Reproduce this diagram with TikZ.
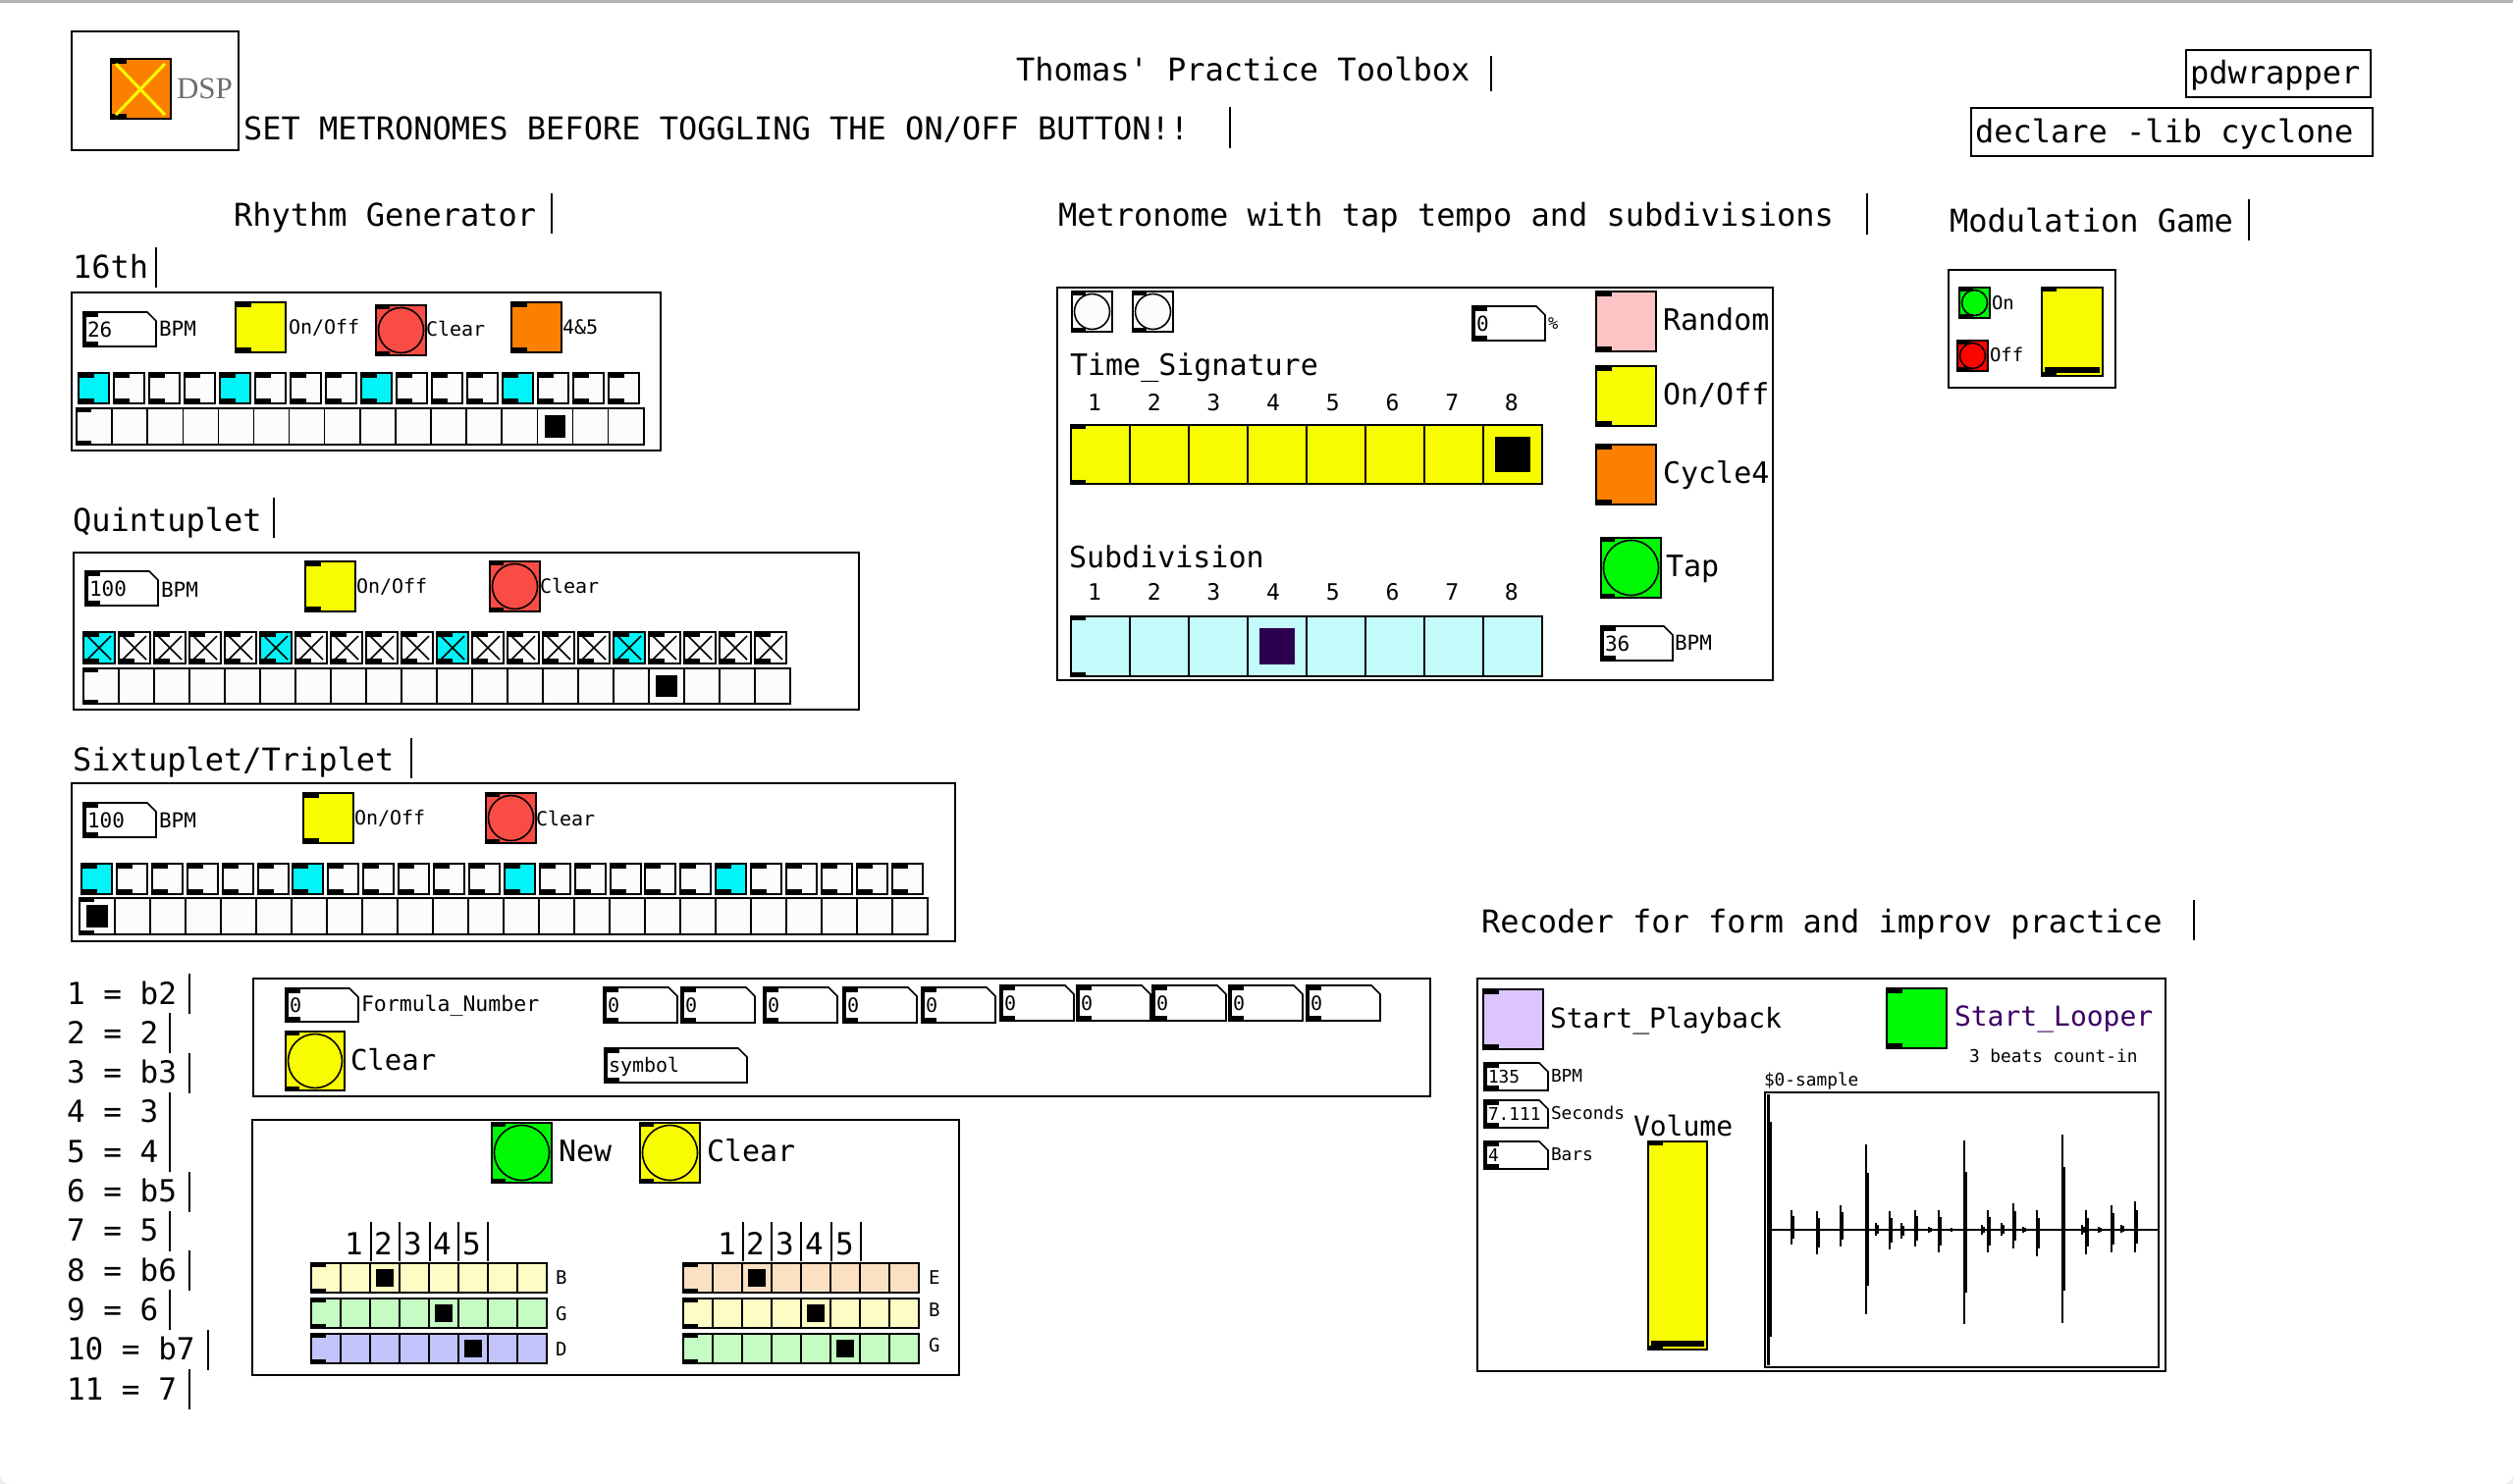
\documentclass[tikz,border=0pt]{standalone}
\usepackage{fontspec}
\setmonofont{DejaVu Sans Mono}
\newfontfamily\dspfont{Liberation Serif}
\newcommand{\fs}[1]{\ttfamily\fontsize{#1pt}{#1pt}\selectfont}
\definecolor{pdyellow}{HTML}{F8FC00}
\definecolor{pdcyan}{HTML}{00F4F8}
\definecolor{pdred}{HTML}{F84C44}
\definecolor{pdorange}{HTML}{FC8000}
\definecolor{pdgreen}{HTML}{00F804}
\definecolor{pdpink}{HTML}{FCC4C4}
\definecolor{pdlcyan}{HTML}{C4FCFC}
\definecolor{pdlav}{HTML}{DCC4FC}
\definecolor{pdlyellow}{HTML}{FCFCC4}
\definecolor{pdlgreen}{HTML}{C4FCC4}
\definecolor{pdlblue}{HTML}{C4C4FC}
\definecolor{pdpeach}{HTML}{FCE0C4}
\definecolor{pdoffred}{HTML}{FC0400}
\definecolor{pddpurple}{HTML}{2C0050}
\definecolor{pdltext}{HTML}{3C0064}
\definecolor{pdwhite}{HTML}{FCFCFC}
\definecolor{dspgray}{HTML}{6E6E6E}
\definecolor{wingray}{HTML}{EBEBEB}
\newcount\nodecnt
\tikzset{lab/.style={anchor=base west, inner sep=0pt, outer sep=0pt},
  frame/.style={draw=black, line width=2pt},
  cbar/.style={line width=1.5pt}}
\newcommand{\ptx}[4]{\global\advance\nodecnt by 1
  \node[lab,font=\fs{#1},name=t\the\nodecnt] at ({#2},{#3}) {#4};}
\newcommand{\ptxc}[5]{\global\advance\nodecnt by 1
  \node[lab,font=\fs{#1},text=#5,name=t\the\nodecnt] at ({#2},{#3}) {#4};}
\newcommand{\pdig}[4]{\global\advance\nodecnt by 1
  \node[anchor=base,inner sep=0pt,font=\fs{#1},name=t\the\nodecnt] at ({#2},{#3}) {#4};}
\newcommand{\ptog}[4]{%
  \filldraw[fill=#4,draw=black,line width=2pt] (#1,#2) rectangle ++(#3,#3);
  \fill[black] (#1,#2) rectangle ++(16,5);
  \fill[black] (#1,{#2+#3}) rectangle ++(16,-5);}
\newcommand{\ptogx}[4]{\ptog{#1}{#2}{#3}{#4}%
  \draw[line width=1.5pt] ({#1+4},{#2+4}) -- ({#1+#3-4},{#2+#3-4}) ({#1+#3-4},{#2+4}) -- ({#1+4},{#2+#3-4});}
\newcommand{\pbang}[4]{%
  \filldraw[fill=#4,draw=black,line width=2pt] (#1,#2) rectangle ++(#3,#3);
  \draw[line width=1.6pt] ({#1+#3/2},{#2+#3/2}) circle[radius={#3*0.5pt-2.5pt}];
  \fill[black] (#1,#2) rectangle ++(14,4);
  \fill[black] (#1,{#2+#3}) rectangle ++(14,-4);}
\newcommand{\pnum}[6]{%
  \filldraw[fill=white,draw=black,line width=1.6pt] (#1,#2) -- ({#1+#3-9},#2) -- ({#1+#3},{#2+9}) -- ({#1+#3},{#2+#4}) -- (#1,{#2+#4}) -- cycle;
  \fill (#1,#2) rectangle ++(15,5);
  \fill (#1,{#2+#4}) rectangle ++(15,-5);
  \fill (#1,#2) rectangle ++(2.5,#4);
  \ptx{#5}{#1+4}{#2+#4/2+0.36*#5}{#6}}
\newcommand{\pradio}[8]{%
  \filldraw[fill=#6,draw=black,line width=2pt] (#1,#2) rectangle ({#1+#3*#5},{#2+#4});
  \pgfmathtruncatemacro{\rn}{#5-1}
  \foreach \k in {1,...,\rn}{\draw[line width=1.5pt] ({#1+\k*#3},#2) -- ({#1+\k*#3},{#2+#4});}
  \fill[#8] ({#1+(#7+0.2)*#3},{#2+0.2*#4}) rectangle ({#1+(#7+0.8)*#3},{#2+0.8*#4});
  \fill (#1,#2) rectangle ++(15,4);
  \fill (#1,{#2+#4}) rectangle ++(15,-4);}
\newcommand{\pvsl}[5]{%
  \filldraw[fill=#5,draw=black,line width=2pt] (#1,#2) rectangle ++(#3,#4);
  \fill ({#1+3},{#2+#4-9}) rectangle ({#1+#3-3},{#2+#4-3});
  \fill (#1,#2) rectangle ++(15,4);
  \fill (#1,{#2+#4}) rectangle ++(15,-4);}
\newcommand{\pcb}[3]{\draw[cbar] (#1,#2) -- (#1,#3);}
\begin{document}
\begin{tikzpicture}[x=1pt,y=-1pt]
\fill[wingray] (0,0) rectangle (2560,1512);
\useasboundingbox (0,0) rectangle (2560,1512);
\fill[white, rounded corners=10pt] (0,-20) rectangle (2560,1512);
\fill[white] (0,0) rectangle (2560,40);
\draw[black!30, line width=3pt] (0,1.5) -- (2560,1.5);
% ---------- header ----------
\draw[frame] (73,32) rectangle (243,153);
\ptog{113}{60}{61}{pdorange}
\draw[pdyellow, line width=3pt] (118,65) -- (168,117) (168,65) -- (118,117);
\node[name=dsp, lab, font=\dspfont\fontsize{31pt}{31pt}\selectfont, text=dspgray] at (180,100) {DSP};
\ptx{32}{1035}{83}{Thomas' Practice Toolbox}
\pcb{1519}{57}{93}
\ptx{32}{248}{142}{SET METRONOMES BEFORE TOGGLING THE ON/OFF BUTTON!!}
\pcb{1253}{109}{151}
\draw[frame] (2227,51) rectangle (2415,99);
\ptx{32}{2231}{85}{pdwrapper}
\draw[frame] (2008,110) rectangle (2417,159);
\ptx{32}{2012}{145}{declare -lib cyclone}
% ---------- headings ----------
\ptx{32}{238}{230}{Rhythm Generator}\pcb{562}{197}{238}
\ptx{32}{74}{283}{16th}\pcb{159}{252}{293}
\ptx{32}{1078}{230}{Metronome with tap tempo and subdivisions}\pcb{1902}{197}{239}
\ptx{32}{1986}{236}{Modulation Game}\pcb{2291}{203}{245}
\ptx{32}{74}{541}{Quintuplet}\pcb{279}{507}{548}
\ptx{32}{74}{785}{Sixtuplet/Triplet}\pcb{419}{752}{793}
\ptx{32}{1509}{950}{Recoder for form and improv practice}\pcb{2235}{917}{958}
% ---------- 16th ----------
\draw[frame] (73,298) rectangle (673,459);
\pnum{85}{318}{74}{35}{21}{26}
\ptx{21}{162}{342}{BPM}
\ptog{240}{308}{51}{pdyellow}
\ptx{20}{294}{340}{On/Off}
\pbang{383}{311}{51}{pdred}
\ptx{20}{434}{342}{Clear}
\ptog{521}{308}{51}{pdorange}
\ptx{20}{573}{340}{4\&5}
\foreach \i in {0,...,15}{\ptog{80+36*\i}{380}{31}{pdwhite}}
\foreach \i in {0,4,8,12}{\ptog{80+36*\i}{380}{31}{pdcyan}}
\pradio{78}{416}{36.1}{37}{16}{pdwhite}{13}{black}
% ---------- Quintuplet ----------
\draw[frame] (75,563) rectangle (875,723);
\pnum{87}{582}{74}{35}{21}{100}
\ptx{21}{164}{608}{BPM}
\ptog{311}{572}{51}{pdyellow}
\ptx{20}{363}{604}{On/Off}
\pbang{499}{572}{51}{pdred}
\ptx{20}{550}{604}{Clear}
\foreach \i in {0,...,19}{\ptogx{85+36*\i}{644}{32}{pdwhite}}
\foreach \i in {0,5,10,15}{\ptogx{85+36*\i}{644}{32}{pdcyan}}
\pradio{85}{681}{36}{36}{20}{pdwhite}{16}{black}
% ---------- Sixtuplet ----------
\draw[frame] (73,798) rectangle (973,959);
\pnum{85}{818}{74}{35}{21}{100}
\ptx{21}{162}{843}{BPM}
\ptog{309}{808}{51}{pdyellow}
\ptx{20}{361}{840}{On/Off}
\pbang{495}{808}{51}{pdred}
\ptx{20}{546}{841}{Clear}
\foreach \i in {0,...,23}{\ptog{83+35.9*\i}{880}{31}{pdwhite}}
\foreach \i in {0,6,12,18}{\ptog{83+35.9*\i}{880}{31}{pdcyan}}
\pradio{81}{915}{36}{37}{24}{pdwhite}{0}{black}
% ---------- Metronome ----------
\draw[frame] (1077,293) rectangle (1806,693);
\pbang{1092}{297}{41}{pdwhite}
\pbang{1154}{297}{41}{pdwhite}
\pnum{1500}{312}{74}{35}{21}{0}
\ptx{17}{1577}{335}{\%}
\ptx{30}{1090}{382}{Time\_Signature}
\foreach \i in {1,...,8}{\pdig{23}{1054.3+60.7*\i}{418}{\i}}
\pradio{1091}{433}{60}{60}{8}{pdyellow}{7}{black}
\ptx{30}{1089}{578}{Subdivision}
\foreach \i in {1,...,8}{\pdig{23}{1054.3+60.7*\i}{611}{\i}}
\pradio{1091}{628}{60}{61}{8}{pdlcyan}{3}{pddpurple}
\ptog{1626}{297}{61}{pdpink}
\ptx{30}{1694}{336}{Random}
\ptog{1626}{373}{61}{pdyellow}
\ptx{30}{1694}{412}{On/Off}
\ptog{1626}{453}{61}{pdorange}
\ptx{30}{1694}{492}{Cycle4}
\pbang{1631}{548}{61}{pdgreen}
\ptx{30}{1697}{587}{Tap}
\pnum{1631}{638}{73}{35}{21}{36}
\ptx{21}{1706}{662}{BPM}
% ---------- Modulation ----------
\draw[frame] (1985,275) rectangle (2155,395);
\pbang{1996}{293}{31}{pdgreen}
\ptx{19}{2029}{315}{On}
\pbang{1994}{347}{31}{pdoffred}
\ptx{19}{2027}{368}{Off}
\pvsl{2080}{293}{62}{90}{pdyellow}
% ---------- interval list ----------
\foreach \t/\bx [count=\j from 0] in {1 = b2/193,2 = 2/173,3 = b3/193,4 = 3/173,5 = 4/173,6 = b5/193,7 = 5/173,8 = b6/193,9 = 6/173,10 = b7/212,11 = 7/193}{
  \pgfmathsetmacro{\by}{1023+40.3*\j}
  \ptx{31}{68}{\by}{\t}
  \draw[cbar] (\bx,\by-31) -- (\bx,\by+10);}
% ---------- Formula box ----------
\draw[frame] (258,997) rectangle (1457,1117);
\pnum{291}{1007}{74}{34}{20}{0}
\ptx{21.5}{368}{1030}{Formula\_Number}
\pbang{291}{1051}{60}{pdyellow}
\ptx{29}{357}{1090}{Clear}
\foreach \xx in {615,694,778,859,939}{\pnum{\xx}{1006}{75}{36}{20}{0}}
\foreach \xx in {1019,1097,1174,1252,1331}{\pnum{\xx}{1004}{75}{36}{20}{0}}
\pnum{616}{1068}{145}{35}{20}{symbol}
% ---------- Chord box ----------
\draw[frame] (257,1141) rectangle (977,1401);
\pbang{501}{1144}{61}{pdgreen}
\ptx{30}{569}{1183}{New}
\pbang{652}{1144}{61}{pdyellow}
\ptx{30}{720}{1183}{Clear}
\foreach \d/\dx/\bx in {1/351/378,2/381/407,3/411/438,4/441/467,5/471/497}{
  \ptx{31}{\dx}{1278}{\d}\pcb{\bx}{1245}{1285}}
\foreach \d/\dx/\bx in {1/731/757,2/760/786,3/790/816,4/820/847,5/851/877}{
  \ptx{31}{\dx}{1278}{\d}\pcb{\bx}{1245}{1285}}
\pradio{317}{1287}{30}{30}{8}{pdlyellow}{2}{black}
\pradio{317}{1323}{30}{30}{8}{pdlgreen}{4}{black}
\pradio{317}{1359}{30}{30}{8}{pdlblue}{5}{black}
\ptx{19}{566}{1308}{B}
\ptx{19}{566}{1345}{G}
\ptx{19}{566}{1381}{D}
\pradio{696}{1287}{30}{30}{8}{pdpeach}{2}{black}
\pradio{696}{1323}{30}{30}{8}{pdlyellow}{4}{black}
\pradio{696}{1359}{30}{30}{8}{pdlgreen}{5}{black}
\ptx{19}{946}{1308}{E}
\ptx{19}{946}{1341}{B}
\ptx{19}{946}{1377}{G}
% ---------- Recorder ----------
\draw[frame] (1505,997) rectangle (2206,1397);
\ptog{1511}{1008}{61}{pdlav}
\ptx{28}{1579}{1047}{Start\_Playback}
\ptog{1922}{1007}{61}{pdgreen}
\ptxc{28}{1991}{1045}{Start\_Looper}{pdltext}
\ptx{17.8}{2006}{1082}{3 beats count-in}
\pnum{1512}{1083}{65}{28}{17.8}{135}
\ptx{17.8}{1580}{1102}{BPM}
\pnum{1512}{1121}{65}{28}{17.8}{7.111}
\ptx{17.8}{1580}{1140}{Seconds}
\pnum{1512}{1163}{65}{28}{17.8}{4}
\ptx{17.8}{1580}{1182}{Bars}
\ptx{28}{1664}{1157}{Volume}
\pvsl{1679}{1163}{60}{212}{pdyellow}
\ptx{17.8}{1797}{1106}{\$0-sample}
\draw[black, line width=2.5pt] (1798,1113) rectangle (2199,1393);
\draw[line width=2pt] (1800,1253) -- (2199,1253);
\draw[line width=3pt] (1801,1115) -- (1801,1391);
\draw[line width=2.5pt] (1804,1143) -- (1804,1362);
\foreach \xx/\ya/\yb in {1825/1233/1268,1851/1234/1278,1875/1228/1270,1901/1166/1339,1911/1246/1259,1925/1234/1273,1937/1246/1262,1951/1233/1270,1965/1250/1256,1975/1233/1276,1988/1251/1255,2001/1162/1349,2019/1248/1258,2025/1233/1276,2039/1246/1259,2051/1226/1272,2061/1250/1256,2075/1233/1280,2101/1156/1348,2121/1248/1258,2125/1233/1278,2138/1250/1256,2151/1228/1276,2161/1248/1256,2175/1224/1276}{
  \draw[line width=1.5pt] (\xx,\ya) -- (\xx,\yb);
  \draw[line width=2.5pt] ({\xx+1.5},{\ya+0.17*(\yb-\ya)}) -- ({\xx+1.5},{\yb-0.17*(\yb-\ya)});}
\end{tikzpicture}
\end{document}
